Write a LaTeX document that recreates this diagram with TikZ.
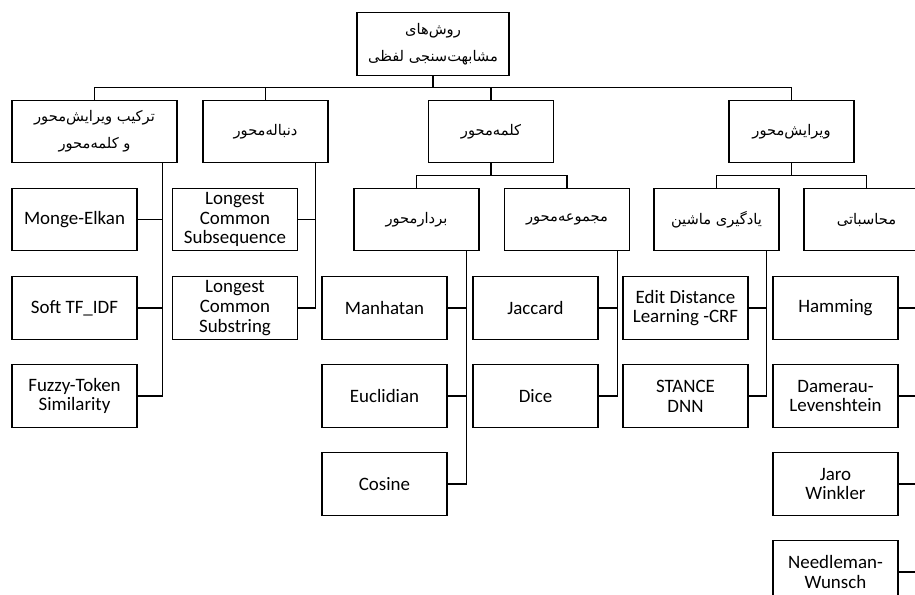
\documentclass[tikz,border=0pt]{standalone}
\usepackage{fontspec}
\setmainfont{Carlito}
\newfontfamily\fafont[Script=Arabic]{DejaVu Sans}
\TeXXeTstate=1
\usetikzlibrary{calc, positioning}

\begin{document}
\begin{tikzpicture}[x=0.75pt,y=-0.75pt,line width=0.9pt,
    box/.style={draw,rectangle,align=center,inner sep=2pt,minimum width=93.75pt,minimum height=47pt,font=\fontsize{14.2}{14.8}\selectfont},
    fa/.style={font=\fafont\fontsize{11}{20.5}\selectfont},
    treelink/.style={to path={(\tikztostart.south) |- ($(\tikztostart.south)!.5!(\tikztotarget.north)$) -| (\tikztotarget.north)}},
    sidelink/.style={to path={($(\tikztostart.south east)+(-#1,0)$) |- (\tikztotarget.east)}},
    sidelink/.default=13]
    \path[use as bounding box] (0,0) rectangle (915,594);
    \clip (0,0) rectangle (915,594);
    \node[box,fa,minimum width=114pt] (root) at (433,44) {\beginR روش‌های\endR\\\beginR مشابهت‌سنجی لفظی\endR};
    \node[box,fa,minimum width=123.75pt] (mix) at (94.5,131.5) {\beginR ترکیب ویرایش‌محور\endR\\\beginR و کلمه‌محور\endR};
    \node[box,fa] (seq) at (265.5,131.5) {\beginR دنباله‌محور\endR};
    \node[box,fa] (word) at (491,131.5) {\beginR کلمه‌محور\endR};
    \node[box,fa] (edit) at (791.5,131.5) {\beginR ویرایش‌محور\endR};
    \node[box,fa] (vec) at (416.5,219.5) {\beginR بردارمحور\endR};
    \node[box,fa] (set) at (567,219.5) {\beginR مجموعه‌محور\endR};
    \node[box,fa] (ml) at (716.5,219.5) {\beginR یادگیری ماشین\endR};
    \node[box,fa] (comp) at (866.5,219.5) {\beginR محاسباتی\endR};
    % leaves
    \node[box] (monge) at (74.5,219.5) {Monge-Elkan};
    \node[box] (softtfidf) at (74.5,308) {Soft TF\_IDF};
    \node[box] (fuzzy) at (74.5,396) {Fuzzy-Token\\Similarity};
    \node[box] (lcsubseq) at (235,219.5) {Longest\\Common\\Subsequence};
    \node[box] (lcsubstr) at (235,308) {Longest\\Common\\Substring};
    \node[box] (manhatan) at (384.5,308) {Manhatan};
    \node[box] (euclid) at (384.5,396) {Euclidian};
    \node[box] (cosine) at (384.5,484) {Cosine};
    \node[box] (jaccard) at (535.5,308) {Jaccard};
    \node[box] (dice) at (535.5,396) {Dice};
    \node[box] (edcrf) at (685.5,308) {Edit Distance\\Learning -CRF};
    \node[box] (stance) at (685.5,396) {STANCE\\DNN};
    \node[box] (hamming) at (835.5,308) {Hamming};
    \node[box] (damerau) at (835.5,396) {Damerau-\\Levenshtein};
    \node[box] (jaro) at (835.5,484) {Jaro\\Winkler};
    \node[box] (needle) at (835.5,572) {Needleman-\\Wunsch};
    \path
        (root)  edge[treelink]  (mix)
                edge[treelink]  (seq)
                edge[treelink]  (word)
                edge[treelink]  (edit)
        (word)  edge[treelink]  (vec)
                edge[treelink]  (set)
        (edit)  edge[treelink]  (ml)
                edge[treelink]  (comp)
        (mix)   edge[sidelink=15]  (monge)
                edge[sidelink=15]  (softtfidf)
                edge[sidelink=15]  (fuzzy)
        (seq)   edge[sidelink]  (lcsubseq)
                edge[sidelink]  (lcsubstr)
        (vec)   edge[sidelink]  (manhatan)
                edge[sidelink]  (euclid)
                edge[sidelink]  (cosine)
        (set)   edge[sidelink]  (jaccard)
                edge[sidelink]  (dice)
        (ml)    edge[sidelink]  (edcrf)
                edge[sidelink]  (stance)
        (comp)  edge[sidelink]  (hamming)
                edge[sidelink]  (damerau)
                edge[sidelink]  (jaro)
                edge[sidelink]  (needle)
    ;
\end{tikzpicture}
\end{document}
